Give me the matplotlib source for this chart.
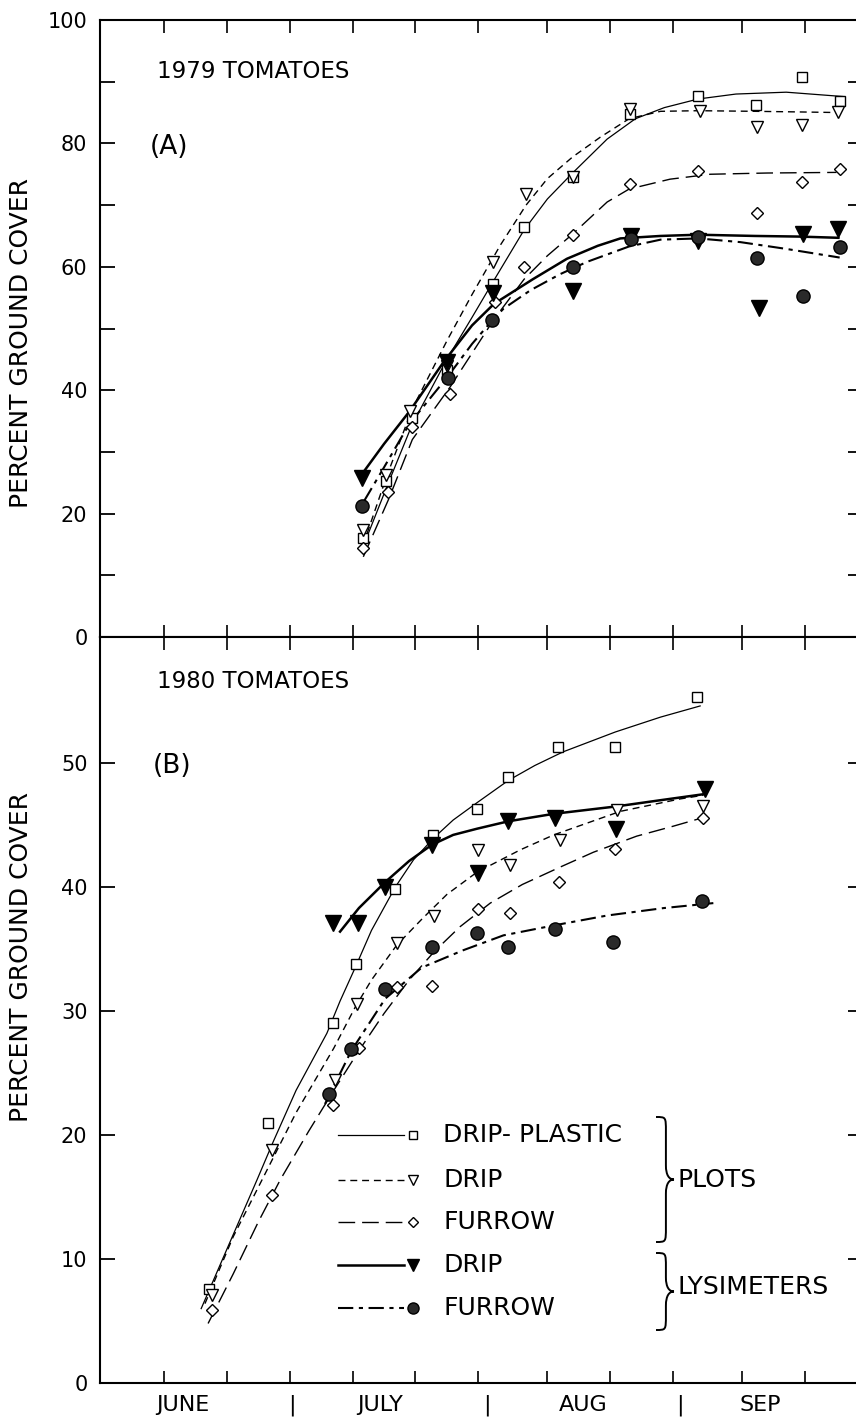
import matplotlib
matplotlib.use('Agg')
import matplotlib.pyplot as plt
import matplotlib.transforms as mtransforms
from matplotlib.lines import Line2D
from matplotlib.path import Path
from matplotlib.patches import PathPatch

plt.rcParams['font.family'] = ['DejaVu Sans']
plt.rcParams['lines.scale_dashes'] = False

# x values are days after June 1

# ---- 1979 (panel A) measured points ----
dp79_day = [40.6, 44.3, 48.4, 54.0, 61.3, 66.3, 74.0, 83.1, 94.0, 103.2, 110.5, 116.5]
dp79_val = [16.0, 25.3, 35.5, 43.3, 57.2, 66.4, 74.5, 84.8, 87.7, 86.2, 90.7, 86.9]
drip79_day = [40.7, 44.3, 48.2, 54.0, 61.4, 66.6, 74.0, 83.1, 94.2, 103.4, 110.5, 116.3]
drip79_val = [17.3, 26.3, 36.7, 44.0, 60.7, 71.8, 74.5, 85.5, 85.3, 82.6, 83.0, 85.1]
fur79_day = [40.7, 44.7, 48.4, 54.5, 61.7, 66.3, 74.0, 83.1, 94.0, 103.4, 110.5, 116.5]
fur79_val = [14.4, 23.5, 34.0, 39.4, 54.3, 59.9, 65.2, 73.5, 75.5, 68.7, 73.7, 75.8]
lysd79_day = [40.5, 54.0, 61.4, 74.1, 83.3, 94.0, 103.6, 110.6, 116.3]
lysd79_val = [25.7, 44.5, 55.8, 56.1, 65.0, 64.2, 53.3, 65.3, 66.1]
lysf79_day = [40.5, 54.2, 61.2, 74.1, 83.3, 94.0, 103.3, 110.6, 116.5]
lysf79_val = [21.2, 41.9, 51.3, 60.0, 64.5, 64.8, 61.4, 55.2, 63.2]

# ---- 1979 fitted curves ----
dp79_cday = [41.0, 44.5, 48.5, 54.0, 58.0, 61.3, 66.3, 70.0, 74.0, 79.5, 84.0, 88.6, 94.0, 100.0, 108.0, 117.0]
dp79_cval = [15.5, 24.5, 34.5, 45.0, 51.8, 57.5, 66.0, 71.0, 75.2, 80.7, 84.0, 85.8, 87.2, 88.0, 88.3, 87.6]
drip79_cday = [40.7, 44.4, 48.5, 54.0, 58.0, 62.5, 66.6, 70.0, 74.0, 78.4, 83.0, 88.0, 94.0, 103.0, 110.0, 116.3]
drip79_cval = [15.0, 26.0, 37.0, 48.0, 55.5, 63.5, 70.0, 74.3, 77.8, 81.0, 84.0, 85.2, 85.3, 85.2, 85.1, 85.0]
fur79_cday = [40.7, 44.8, 48.5, 54.5, 61.5, 66.3, 70.0, 74.0, 79.5, 83.0, 89.5, 95.9, 105.0, 116.0]
fur79_cval = [13.0, 22.5, 32.0, 40.5, 51.5, 58.0, 61.8, 65.3, 70.5, 72.6, 74.2, 75.0, 75.2, 75.3]
lysd79_cday = [40.7, 44.0, 48.0, 53.5, 58.0, 61.5, 67.7, 73.1, 78.0, 81.6, 88.0, 94.0, 103.0, 110.0, 116.3]
lysd79_cval = [26.7, 31.3, 36.5, 44.6, 50.5, 54.0, 58.0, 61.3, 63.4, 64.6, 65.0, 65.2, 65.0, 64.9, 64.7]
lysf79_cday = [40.8, 44.0, 48.0, 54.2, 58.0, 61.2, 63.0, 67.3, 72.0, 76.3, 83.0, 88.0, 94.0, 100.7, 108.0, 116.5]
lysf79_cval = [22.0, 27.5, 34.5, 42.3, 47.5, 51.3, 53.2, 56.2, 58.8, 60.8, 63.3, 64.4, 64.6, 64.0, 62.9, 61.5]

# ---- 1980 (panel B) measured points ----
dp80_day = [16.1, 25.6, 35.8, 39.6, 45.8, 51.8, 58.8, 63.8, 71.7, 80.8, 93.8]
dp80_val = [7.6, 21.0, 29.0, 33.8, 39.8, 44.2, 46.3, 48.9, 51.3, 51.3, 55.3]
drip80_day = [16.6, 26.1, 36.2, 39.7, 46.0, 51.9, 58.9, 64.1, 72.0, 81.0, 94.8]
drip80_val = [7.1, 18.8, 24.4, 30.6, 35.5, 37.7, 43.0, 41.8, 43.8, 46.2, 46.5]
fur80_day = [16.6, 26.1, 35.9, 40.0, 46.0, 51.6, 59.0, 64.1, 71.8, 80.8, 94.8]
fur80_val = [5.9, 15.2, 22.4, 27.0, 31.9, 32.0, 38.2, 37.9, 40.4, 43.1, 45.6]
lysd80_day = [35.9, 39.9, 44.2, 51.6, 58.9, 63.8, 71.2, 80.9, 95.1]
lysd80_val = [37.1, 37.1, 40.0, 43.4, 41.1, 45.3, 45.6, 44.7, 47.9]
lysf80_day = [35.3, 38.8, 44.2, 51.6, 58.8, 63.8, 71.2, 80.5, 94.6]
lysf80_val = [23.3, 26.9, 31.8, 35.2, 36.3, 35.2, 36.6, 35.6, 38.9]

# ---- 1980 fitted curves ----
dp80_cday = [14.9, 19.0, 23.8, 26.4, 30.0, 34.9, 37.0, 39.5, 42.0, 45.8, 48.7, 52.0, 55.0, 58.8, 63.8, 68.0, 72.5, 80.8, 88.0, 94.3]
dp80_cval = [6.0, 10.8, 16.4, 19.5, 23.6, 28.2, 30.8, 33.6, 36.5, 40.0, 42.2, 44.0, 45.4, 46.8, 48.6, 49.8, 50.9, 52.5, 53.7, 54.6]
drip80_cday = [15.5, 20.0, 26.0, 30.0, 36.0, 39.4, 42.0, 46.0, 50.0, 54.0, 58.8, 65.7, 71.0, 81.6, 91.1, 94.8]
drip80_cval = [6.4, 11.8, 17.8, 21.8, 27.0, 30.3, 32.5, 35.3, 37.4, 39.4, 41.2, 43.0, 44.2, 46.1, 47.1, 47.4]
fur80_cday = [16.0, 20.0, 24.0, 27.5, 32.0, 36.0, 40.0, 44.0, 48.0, 52.0, 56.1, 60.9, 66.0, 72.0, 77.3, 84.2, 90.0, 94.8]
fur80_cval = [4.8, 8.8, 13.0, 16.4, 20.3, 23.6, 26.8, 29.8, 32.5, 34.8, 36.8, 38.7, 40.2, 41.6, 42.8, 44.1, 44.9, 45.6]
lysd80_cday = [37.0, 40.0, 44.2, 48.0, 51.6, 55.0, 58.8, 63.8, 71.0, 81.0, 88.0, 95.1]
lysd80_cval = [36.4, 38.3, 40.4, 42.1, 43.4, 44.2, 44.7, 45.3, 45.9, 46.5, 47.0, 47.5]
lysf80_cday = [34.6, 38.8, 44.2, 50.0, 56.6, 63.0, 71.0, 79.5, 88.5, 96.4]
lysf80_cval = [22.5, 26.8, 31.0, 33.5, 34.9, 36.1, 36.9, 37.7, 38.3, 38.7]

tick_days = [9, 19, 29, 39, 49, 59, 70, 80, 90, 101, 111]
month_names = ['JUNE', 'JULY', 'AUG', 'SEP']
month_mid = [12.0, 43.4, 75.7, 103.9]
month_sep = [29.4, 60.4, 91.1]

legend_names = ['DRIP- PLASTIC', 'DRIP', 'FURROW', 'DRIP', 'FURROW']

# line / marker styles
line_st = {
    'dp': dict(lw=0.9, ls='-'),
    'drip': dict(lw=1.0, dashes=(5, 3.5)),
    'fur': dict(lw=1.0, dashes=(12, 5)),
    'lysd': dict(lw=1.8, ls='-'),
    'lysf': dict(lw=1.5, dashes=(11, 4, 3, 4)),
}
mark_st = {
    'dp': dict(marker='s', ms=7, mfc='white', mec='black', mew=1.0),
    'drip': dict(marker='v', ms=9, mfc='white', mec='black', mew=1.0),
    'fur': dict(marker='D', ms=6.5, mfc='white', mec='black', mew=1.0),
    'lysd': dict(marker='v', ms=11, mfc='black', mec='black', mew=1.0),
    'lysf': dict(marker='o', ms=9.5, mfc='#2a2a2a', mec='black', mew=1.0),
}

W, H = 856, 1422
fig = plt.figure(figsize=(W / 100, H / 100), dpi=100)


def fx(px):
    return px / W


def fy(py):
    return 1 - py / H


ax1 = fig.add_axes([fx(100), fy(637), fx(856) - fx(100), fy(20) - fy(637)])
ax2 = fig.add_axes([fx(100), fy(1383), fx(856) - fx(100), fy(637) - fy(1383)])

panel1 = [('dp', dp79_day, dp79_val, dp79_cday, dp79_cval),
          ('drip', drip79_day, drip79_val, drip79_cday, drip79_cval),
          ('fur', fur79_day, fur79_val, fur79_cday, fur79_cval),
          ('lysd', lysd79_day, lysd79_val, lysd79_cday, lysd79_cval),
          ('lysf', lysf79_day, lysf79_val, lysf79_cday, lysf79_cval)]
panel2 = [('dp', dp80_day, dp80_val, dp80_cday, dp80_cval),
          ('drip', drip80_day, drip80_val, drip80_cday, drip80_cval),
          ('fur', fur80_day, fur80_val, fur80_cday, fur80_cval),
          ('lysd', lysd80_day, lysd80_val, lysd80_cday, lysd80_cval),
          ('lysf', lysf80_day, lysf80_val, lysf80_cday, lysf80_cval)]

for ax, panel in ((ax1, panel1), (ax2, panel2)):
    for key, d, v, cd, cv in panel:
        ax.plot(cd, cv, color='black', zorder=2, **line_st[key])
    for key, d, v, cd, cv in panel:
        ax.plot(d, v, ls='none', zorder=3, **mark_st[key])

ax1.set_ylim(0, 100)
ax2.set_ylim(0, 60.16)
ax1.set_yticks(range(0, 101, 20))
ax1.set_yticks(range(10, 100, 20), minor=True)
ax2.set_yticks(range(0, 51, 10))

for ax in (ax1, ax2):
    ax.set_xlim(-1.2, 119.1)
    ax.set_xticks(tick_days)
    ax.set_xticklabels([])
    ax.spines['right'].set_visible(False)
    for s in ('left', 'top', 'bottom'):
        ax.spines[s].set_linewidth(1.5)
    ax.tick_params(axis='x', which='both', direction='in', top=True, bottom=True,
                   length=9, width=1.2)
    ax.tick_params(axis='y', which='both', direction='in', left=True, right=False,
                   length=11, width=1.3, labelsize=15, pad=9)
    # short ticks on the right edge
    axr = ax.twinx()
    axr.set_ylim(ax.get_ylim())
    axr.set_yticks(ax.get_yticks(minor=False))
    axr.set_yticks(ax.get_yticks(minor=True), minor=True)
    axr.set_yticklabels([])
    for s in axr.spines.values():
        s.set_visible(False)
    axr.tick_params(axis='y', which='both', direction='in', length=6, width=1.3)

ax1.set_ylabel('PERCENT GROUND COVER', fontsize=18)
ax2.set_ylabel('PERCENT GROUND COVER', fontsize=18)
ax1.yaxis.set_label_coords(-67 / 756, (637 - 343) / 617)
ax2.yaxis.set_label_coords(-67 / 756, (1383 - 957) / 746)

trans = mtransforms.blended_transform_factory(ax2.transData, ax2.transAxes)
for name, d in zip(month_names, month_mid):
    ax2.text(d, -22 / 746, name, transform=trans, ha='center', va='center', fontsize=16)
for d in month_sep:
    ax2.text(d, -22 / 746, '|', transform=trans, ha='center', va='center', fontsize=16)

fig.text(fx(157), fy(71), '1979 TOMATOES', fontsize=16.5, va='center', ha='left')
fig.text(fx(150), fy(147), '(A)', fontsize=19, va='center', ha='left')
fig.text(fx(157), fy(681), '1980 TOMATOES', fontsize=16.5, va='center', ha='left')
fig.text(fx(153), fy(766), '(B)', fontsize=19, va='center', ha='left')

# legend drawn by hand: line sample, marker at its end, label
rows_y = [1135, 1180, 1222, 1265, 1308]
keys = ['dp', 'drip', 'fur', 'lysd', 'lysf']
leg_ms = {'dp': 5.5, 'drip': 7, 'fur': 5.5, 'lysd': 9, 'lysf': 8}
for key, name, ry in zip(keys, legend_names, rows_y):
    fig.add_artist(Line2D([fx(338), fx(404)], [fy(ry), fy(ry)], color='black',
                          transform=fig.transFigure, **line_st[key]))
    ms = dict(mark_st[key])
    ms['ms'] = leg_ms[key]
    fig.add_artist(Line2D([fx(413)], [fy(ry)], ls='none', transform=fig.transFigure, **ms))
    fig.text(fx(443), fy(ry), name, fontsize=18, va='center', ha='left')


def brace(xl, ytop, ybot, w):
    xm = xl + 0.55 * w
    xt = xl + w
    ym = (ytop + ybot) / 2
    r = 0.5 * w
    pts = [(xl, ytop), (xm, ytop), (xm, ytop), (xm, ytop + 1.6 * r),
           (xm, ym - 1.6 * r),
           (xm, ym - 0.4 * r), (xm + 0.2 * w, ym), (xt, ym),
           (xm + 0.2 * w, ym), (xm, ym + 0.4 * r), (xm, ym + 1.6 * r),
           (xm, ybot - 1.6 * r),
           (xm, ybot), (xm, ybot), (xl, ybot)]
    codes = [Path.MOVETO, Path.CURVE4, Path.CURVE4, Path.CURVE4, Path.LINETO,
             Path.CURVE4, Path.CURVE4, Path.CURVE4, Path.CURVE4, Path.CURVE4, Path.CURVE4,
             Path.LINETO, Path.CURVE4, Path.CURVE4, Path.CURVE4]
    verts = [(fx(x), fy(y)) for x, y in pts]
    fig.add_artist(PathPatch(Path(verts, codes), fill=False, lw=1.4, color='black',
                             transform=fig.transFigure))


brace(656, 1117, 1242, 18)
brace(656, 1253, 1330, 18)
fig.text(fx(678), fy(1180), 'PLOTS', fontsize=18, va='center', ha='left')
fig.text(fx(678), fy(1287), 'LYSIMETERS', fontsize=18, va='center', ha='left')

fig.savefig('out.png', dpi=100)
